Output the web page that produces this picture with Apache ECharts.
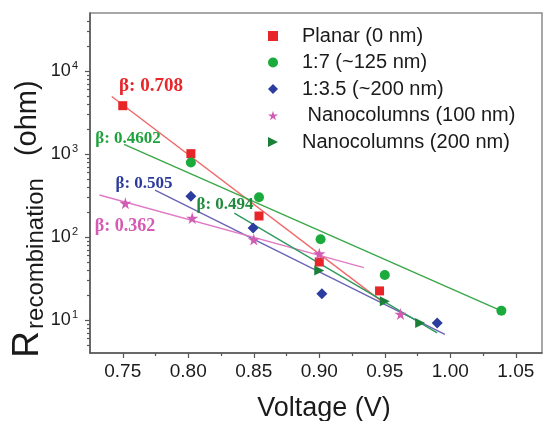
<!DOCTYPE html>
<html>
<head>
<meta charset="utf-8">
<script src="https://cdn.jsdelivr.net/npm/echarts@6/dist/echarts.min.js"></script>
<style>
  html, body { margin: 0; padding: 0; background: #ffffff; }
  #chart { width: 545px; height: 421px; }
</style>
</head>
<body>
<div id="chart"></div>
<script>
// Recombination resistance versus applied voltage, log scale
const seriesNames = ['Planar (0 nm)', '1:7 (~125 nm)', '1:3.5 (~200 nm)', ' Nanocolumns (100 nm)', 'Nanocolumns (200 nm)'];

const voltPlanar = [0.750, 0.802, 0.854, 0.900, 0.946];
const resPlanar  = [3820, 1010, 179, 50, 22.4];
const volt17     = [0.802, 0.854, 0.901, 0.950, 1.039];
const res17      = [789, 301, 94, 34.8, 12.9];
const volt135    = [0.802, 0.8495, 0.902, 0.990];
const res135     = [310, 128, 20.7, 9.2];
const voltNc100  = [0.752, 0.803, 0.850, 0.900, 0.962];
const resNc100   = [255, 169, 93, 63, 11.8];
const voltNc200  = [0.900, 0.950, 0.977];
const resNc200   = [39.4, 16.8, 9.2];

// Fitted lines: [start, end] voltage and resistance
const fitVoltPlanar = [0.7416, 0.949];
const fitResPlanar  = [4930, 16.2];
const fitVolt17     = [0.751, 1.039];
const fitRes17      = [1306, 12.9];
const fitVolt135    = [0.7746, 0.9959];
const fitRes135     = [368, 6.7];
const fitVoltNc100  = [0.7322, 0.9341];
const fitResNc100   = [321, 42.8];
const fitVoltNc200  = [0.8351, 0.990];
const fitResNc200   = [194, 7.0];

const betaLabels = ['β: 0.708', 'β: 0.4602', 'β: 0.505', 'β: 0.362', 'β: 0.494'];

const xMajorTicks = [0.75, 0.80, 0.85, 0.90, 0.95, 1.00, 1.05];
const xMinorTicks = [0.775, 0.825, 0.875, 0.925, 0.975, 1.025];
const yMajorTicks = [10, 100, 1000, 10000];
const yMinorTicks = [5, 6, 7, 8, 9, 20, 30, 40, 50, 60, 70, 80, 90,
  200, 300, 400, 500, 600, 700, 800, 900,
  2000, 3000, 4000, 5000, 6000, 7000, 8000, 9000, 20000, 30000, 40000];

const pairs = (xs, ys) => xs.map((x, i) => [x, ys[i]]);

const starPath = 'path://M50,0 L61,35 L98,35 L68,57 L79,91 L50,70 L21,91 L32,57 L2,35 L39,35 Z';
const triPath = 'path://M0,0 L10,5 L0,10 Z';

const pointColors = ['#e8262a', '#1aab3c', '#2b3ea0', '#d25cb4', '#1b7f3a'];
const lineColors  = ['#f0686a', '#3aa748', '#6a62b4', '#e07ac6', '#2f9a5e'];
const symbols = ['rect', 'circle', 'diamond', starPath, triPath];
const symbolSizes = [9, 10, 11, 12, 10];

const pointSets = [
  pairs(voltPlanar, resPlanar), pairs(volt17, res17), pairs(volt135, res135),
  pairs(voltNc100, resNc100), pairs(voltNc200, resNc200)
];
const fitSets = [
  pairs(fitVoltPlanar, fitResPlanar), pairs(fitVolt17, fitRes17), pairs(fitVolt135, fitRes135),
  pairs(fitVoltNc100, fitResNc100), pairs(fitVoltNc200, fitResNc200)
];

const font = 'Liberation Sans, Arial, sans-serif';
const serif = 'Liberation Serif, Times New Roman, serif';

const series = [];
fitSets.forEach((d, i) => {
  series.push({
    type: 'line', data: d, xAxisIndex: 0, yAxisIndex: 0,
    symbol: 'none', z: 1, silent: true,
    lineStyle: { color: lineColors[i], width: 1.4 }
  });
});
pointSets.forEach((d, i) => {
  series.push({
    name: seriesNames[i], type: 'scatter', data: d, xAxisIndex: 0, yAxisIndex: 0,
    symbol: symbols[i], symbolSize: symbolSizes[i], z: 3,
    itemStyle: { color: pointColors[i], opacity: 1 }
  });
});

// β annotations placed beside each fitted line
const betaStyle = [
  { x: 151, y: 86, size: 19, color: '#e8262a' },
  { x: 128, y: 139, size: 17, color: '#1ea33c' },
  { x: 144, y: 184, size: 17, color: '#2b3a9c' },
  { x: 125, y: 226, size: 18, color: '#d45ab2' },
  { x: 225, y: 205, size: 17, color: '#1f8a3c' }
];
const graphics = betaLabels.map((t, i) => ({
  type: 'text', x: betaStyle[i].x, y: betaStyle[i].y, z: 10,
  style: {
    text: t, fill: betaStyle[i].color, align: 'center', verticalAlign: 'middle',
    font: 'bold ' + betaStyle[i].size + 'px ' + serif
  }
}));

const chart = echarts.init(document.getElementById('chart'), null, { renderer: 'canvas' });
chart.setOption({
  animation: false,
  backgroundColor: '#ffffff',
  grid: {
    left: 90, right: 3, top: 13, bottom: 68, outerBoundsMode: 'none', containLabel: false,
    show: true, borderColor: '#8a8a8a', borderWidth: 1.5
  },
  legend: {
    data: seriesNames, orient: 'vertical', left: 263, top: 21,
    itemWidth: 10, itemHeight: 10, itemGap: 6.5,
    textStyle: { fontFamily: font, fontSize: 20, color: '#1a1a1a', lineHeight: 20, padding: [0, 0, 0, 19] }
  },
  xAxis: [{
    type: 'value', min: 0.725, max: 1.07, position: 'bottom',
    name: 'Voltage (V)', nameLocation: 'middle', nameGap: 42, nameMoveOverlap: false,
    nameTextStyle: { fontFamily: font, fontSize: 27, color: '#1a1a1a', padding: [0, 0, 0, 16] },
    axisLine: { onZero: false, lineStyle: { color: '#555', width: 1.5 } },
    axisTick: { show: true, length: 5, customValues: xMajorTicks, lineStyle: { color: '#555', width: 1.2 } },
    axisLabel: { customValues: xMajorTicks, margin: 9, fontFamily: font, fontSize: 19, color: '#1a1a1a',
      formatter: v => v.toFixed(2) },
    splitLine: { show: false }
  }, {
    type: 'value', min: 0.725, max: 1.07, position: 'bottom',
    axisLine: { show: false, onZero: false },
    axisTick: { show: true, length: 3, customValues: xMinorTicks, lineStyle: { color: '#555', width: 1.2 } },
    axisLabel: { show: false },
    splitLine: { show: false }
  }],
  yAxis: [{
    type: 'log', logBase: 10, min: 4, max: 50000, position: 'left',
    name: '{r|R}{s|recombination}{u| (ohm)}', nameLocation: 'middle', nameRotate: 90, nameGap: 44,
    nameMoveOverlap: false,
    nameTextStyle: {
      fontFamily: font, color: '#1a1a1a', padding: [0, 72, 0, 0],
      rich: {
        r: { fontFamily: font, fontSize: 37, color: '#1a1a1a' },
        s: { fontFamily: font, fontSize: 24, color: '#1a1a1a', verticalAlign: 'bottom', padding: [0, 4, -2, 2] },
        u: { fontFamily: font, fontSize: 29, color: '#1a1a1a', padding: [0, 0, 0, 10] }
      }
    },
    axisLine: { onZero: false, lineStyle: { color: '#555', width: 1.5 } },
    axisTick: { show: true, length: 5, customValues: yMajorTicks, lineStyle: { color: '#555', width: 1.2 } },
    axisLabel: {
      customValues: yMajorTicks, margin: 12, fontFamily: font, fontSize: 18, color: '#1a1a1a',
      formatter: v => '10{sup|' + Math.round(Math.log10(v)) + '}',
      rich: { sup: { fontFamily: font, fontSize: 11, color: '#1a1a1a', verticalAlign: 'top', padding: [0, 0, 10, 1] } }
    },
    splitLine: { show: false }
  }, {
    type: 'log', logBase: 10, min: 4, max: 50000, position: 'left',
    axisLine: { show: false, onZero: false },
    axisTick: { show: true, length: 3, customValues: yMinorTicks, lineStyle: { color: '#555', width: 1.2 } },
    axisLabel: { show: false },
    splitLine: { show: false }
  }],
  series: series,
  graphic: graphics
});
</script>
</body>
</html>
